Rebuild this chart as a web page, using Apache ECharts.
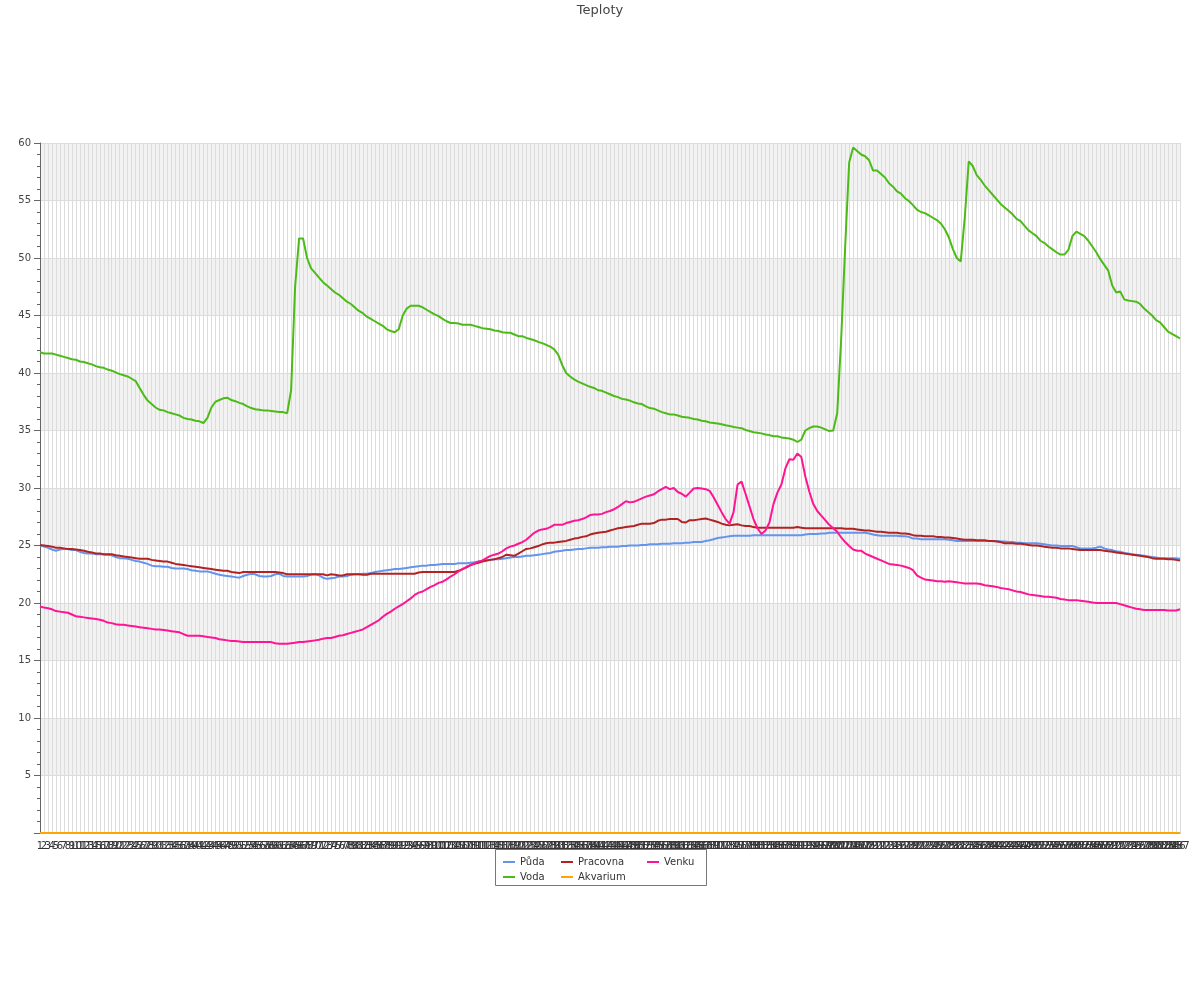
<!DOCTYPE html>
<html>
<head>
<meta charset="utf-8">
<script src="https://cdn.jsdelivr.net/npm/echarts@6/dist/echarts.min.js"></script>
<style>html,body{margin:0;padding:0;background:#fff}#c{width:1200px;height:1000px}</style>
</head>
<body>
<div id="c"></div>
<script>
// ---- data ----
const categories = Array.from({length: 287}, (_, i) => String(i + 1));

const puda = [
25.0,24.9,24.8,24.65,24.55,24.65,24.7,24.7,24.6,24.6,
24.45,24.35,24.3,24.3,24.25,24.25,24.2,24.2,24.15,24.0,
23.9,23.9,23.85,23.75,23.65,23.6,23.5,23.4,23.25,23.2,
23.2,23.15,23.15,23.05,23.0,23.0,23.0,22.95,22.85,22.8,
22.75,22.75,22.75,22.65,22.55,22.45,22.4,22.35,22.3,22.25,
22.2,22.35,22.45,22.55,22.5,22.35,22.3,22.3,22.35,22.5,
22.55,22.35,22.3,22.3,22.3,22.3,22.3,22.35,22.45,22.5,
22.4,22.2,22.1,22.15,22.2,22.3,22.3,22.35,22.45,22.5,
22.5,22.55,22.55,22.6,22.7,22.75,22.8,22.85,22.9,22.95,
22.95,23.0,23.05,23.1,23.15,23.2,23.25,23.25,23.3,23.3,
23.35,23.4,23.4,23.4,23.4,23.45,23.45,23.45,23.5,23.55,
23.6,23.65,23.7,23.75,23.8,23.8,23.85,23.9,23.95,24.0,
24.0,24.05,24.1,24.1,24.15,24.2,24.25,24.3,24.35,24.45,
24.5,24.55,24.6,24.6,24.65,24.7,24.7,24.75,24.8,24.8,
24.8,24.85,24.85,24.9,24.9,24.9,24.95,24.95,25.0,25.0,
25.0,25.05,25.05,25.1,25.1,25.1,25.15,25.15,25.15,25.2,
25.2,25.2,25.25,25.25,25.3,25.3,25.3,25.4,25.45,25.55,
25.65,25.7,25.75,25.8,25.85,25.85,25.85,25.85,25.85,25.9,
25.9,25.9,25.9,25.9,25.9,25.9,25.9,25.9,25.9,25.9,
25.9,25.9,25.95,26.0,26.0,26.0,26.05,26.05,26.1,26.1,
26.1,26.1,26.1,26.1,26.1,26.1,26.1,26.1,26.05,25.95,
25.9,25.85,25.85,25.85,25.85,25.85,25.8,25.8,25.75,25.6,
25.6,25.55,25.55,25.55,25.55,25.55,25.55,25.55,25.5,25.45,
25.4,25.4,25.4,25.4,25.4,25.4,25.4,25.4,25.4,25.4,
25.4,25.35,25.35,25.3,25.3,25.25,25.25,25.2,25.2,25.2,
25.2,25.15,25.1,25.05,25.0,25.0,24.95,24.95,24.95,24.95,
24.85,24.75,24.75,24.75,24.75,24.8,24.9,24.75,24.65,24.6,
24.5,24.45,24.35,24.3,24.25,24.2,24.15,24.1,24.05,24.0,
23.95,23.9,23.9,23.9,23.9,23.9,23.85
];

const voda = [
41.8,41.7,41.7,41.7,41.6,41.5,41.4,41.3,41.2,41.15,
41.0,40.95,40.85,40.75,40.6,40.5,40.45,40.3,40.2,40.05,
39.9,39.8,39.7,39.5,39.3,38.7,38.1,37.6,37.3,37.0,
36.8,36.75,36.6,36.5,36.4,36.3,36.1,36.0,35.95,35.85,
35.8,35.65,36.1,37.0,37.5,37.65,37.8,37.85,37.65,37.55,
37.4,37.3,37.1,36.95,36.85,36.8,36.75,36.75,36.7,36.65,
36.6,36.6,36.5,38.5,47.5,51.7,51.7,50.0,49.1,48.7,
48.3,47.9,47.6,47.3,47.0,46.8,46.5,46.2,46.0,45.7,
45.4,45.2,44.9,44.7,44.5,44.3,44.1,43.8,43.65,43.55,
43.8,45.0,45.6,45.85,45.85,45.85,45.7,45.5,45.3,45.1,
44.95,44.7,44.5,44.35,44.35,44.3,44.2,44.2,44.2,44.1,
44.0,43.9,43.85,43.8,43.7,43.65,43.55,43.5,43.5,43.35,
43.2,43.2,43.05,42.95,42.85,42.7,42.6,42.45,42.3,42.05,
41.6,40.7,40.0,39.7,39.45,39.25,39.1,38.95,38.8,38.7,
38.5,38.45,38.3,38.15,38.0,37.9,37.75,37.7,37.6,37.45,
37.35,37.3,37.1,36.95,36.9,36.75,36.6,36.5,36.4,36.4,
36.3,36.2,36.15,36.1,36.0,35.95,35.85,35.8,35.7,35.65,
35.6,35.55,35.45,35.4,35.3,35.25,35.2,35.05,34.95,34.85,
34.8,34.75,34.65,34.6,34.5,34.5,34.4,34.35,34.3,34.2,
34.0,34.2,35.0,35.2,35.35,35.35,35.25,35.1,34.95,35.0,
36.5,43.0,51.0,58.3,59.6,59.3,59.0,58.85,58.5,57.6,
57.6,57.3,57.0,56.5,56.2,55.8,55.6,55.2,54.95,54.6,
54.2,54.0,53.9,53.7,53.5,53.3,53.0,52.5,51.8,50.8,
50.0,49.7,53.5,58.4,58.0,57.2,56.8,56.3,55.9,55.5,
55.1,54.7,54.4,54.1,53.8,53.4,53.2,52.8,52.4,52.15,
51.9,51.5,51.3,51.0,50.75,50.5,50.3,50.3,50.7,51.9,
52.3,52.1,51.9,51.5,51.0,50.5,49.9,49.4,48.9,47.6,
47.0,47.1,46.4,46.3,46.25,46.2,46.0,45.6,45.3,45.0,
44.6,44.4,44.0,43.6,43.4,43.2,43.0
];

const pracovna = [
25.05,25.0,24.95,24.9,24.8,24.8,24.75,24.7,24.7,24.65,
24.6,24.55,24.45,24.4,24.3,24.3,24.25,24.25,24.25,24.15,
24.1,24.05,24.0,23.95,23.9,23.85,23.85,23.85,23.75,23.7,
23.65,23.6,23.6,23.5,23.4,23.35,23.3,23.25,23.2,23.15,
23.1,23.05,23.0,22.95,22.9,22.85,22.8,22.8,22.7,22.65,
22.6,22.7,22.7,22.7,22.7,22.7,22.7,22.7,22.7,22.7,
22.65,22.6,22.5,22.5,22.5,22.5,22.5,22.5,22.5,22.5,
22.5,22.5,22.4,22.5,22.45,22.4,22.4,22.5,22.5,22.5,
22.5,22.45,22.45,22.55,22.55,22.55,22.55,22.55,22.55,22.55,
22.55,22.55,22.55,22.55,22.55,22.65,22.7,22.7,22.7,22.7,
22.7,22.7,22.7,22.7,22.7,22.8,22.95,23.1,23.3,23.4,
23.5,23.6,23.7,23.75,23.8,23.9,24.0,24.2,24.15,24.1,
24.3,24.5,24.7,24.75,24.85,24.95,25.1,25.2,25.25,25.25,
25.3,25.35,25.4,25.5,25.6,25.65,25.75,25.8,25.95,26.05,
26.1,26.15,26.2,26.3,26.4,26.5,26.55,26.6,26.65,26.7,
26.8,26.9,26.9,26.9,26.95,27.15,27.25,27.25,27.3,27.3,
27.3,27.05,27.0,27.2,27.2,27.25,27.3,27.35,27.25,27.15,
27.05,26.9,26.8,26.75,26.8,26.85,26.75,26.7,26.7,26.6,
26.55,26.55,26.55,26.55,26.55,26.55,26.55,26.55,26.55,26.55,
26.6,26.55,26.5,26.5,26.5,26.5,26.5,26.5,26.5,26.5,
26.5,26.5,26.45,26.45,26.45,26.4,26.35,26.3,26.3,26.25,
26.2,26.2,26.15,26.1,26.1,26.1,26.05,26.05,26.0,25.9,
25.85,25.85,25.8,25.8,25.8,25.75,25.75,25.7,25.7,25.65,
25.6,25.55,25.5,25.5,25.5,25.45,25.45,25.45,25.4,25.4,
25.35,25.3,25.2,25.2,25.2,25.15,25.15,25.1,25.05,25.0,
25.0,24.95,24.9,24.85,24.8,24.8,24.75,24.75,24.75,24.7,
24.65,24.6,24.6,24.6,24.6,24.6,24.6,24.55,24.5,24.45,
24.4,24.35,24.3,24.25,24.2,24.15,24.1,24.05,24.0,23.9,
23.85,23.85,23.85,23.8,23.8,23.75,23.7
];

const akvarium = [
0,0,0,0,0,0,0,0,0,0, 0,0,0,0,0,0,0,0,0,0, 0,0,0,0,0,0,0,0,0,0,
0,0,0,0,0,0,0,0,0,0, 0,0,0,0,0,0,0,0,0,0, 0,0,0,0,0,0,0,0,0,0,
0,0,0,0,0,0,0,0,0,0, 0,0,0,0,0,0,0,0,0,0, 0,0,0,0,0,0,0,0,0,0,
0,0,0,0,0,0,0,0,0,0, 0,0,0,0,0,0,0,0,0,0, 0,0,0,0,0,0,0,0,0,0,
0,0,0,0,0,0,0,0,0,0, 0,0,0,0,0,0,0,0,0,0, 0,0,0,0,0,0,0,0,0,0,
0,0,0,0,0,0,0,0,0,0, 0,0,0,0,0,0,0,0,0,0, 0,0,0,0,0,0,0,0,0,0,
0,0,0,0,0,0,0,0,0,0, 0,0,0,0,0,0,0,0,0,0, 0,0,0,0,0,0,0,0,0,0,
0,0,0,0,0,0,0,0,0,0, 0,0,0,0,0,0,0,0,0,0, 0,0,0,0,0,0,0,0,0,0,
0,0,0,0,0,0,0,0,0,0, 0,0,0,0,0,0,0,0,0,0, 0,0,0,0,0,0,0,0,0,0,
0,0,0,0,0,0,0,0,0,0, 0,0,0,0,0,0,0
];

const venku = [
19.7,19.6,19.55,19.45,19.3,19.25,19.2,19.15,19.0,18.85,
18.8,18.75,18.7,18.65,18.6,18.55,18.45,18.3,18.25,18.15,
18.1,18.1,18.05,18.0,17.95,17.9,17.85,17.8,17.75,17.7,
17.7,17.65,17.6,17.55,17.5,17.45,17.3,17.15,17.15,17.15,
17.15,17.1,17.05,17.0,16.95,16.85,16.8,16.75,16.7,16.7,
16.65,16.6,16.6,16.6,16.6,16.6,16.6,16.6,16.6,16.5,
16.45,16.45,16.45,16.5,16.55,16.6,16.6,16.65,16.7,16.75,
16.8,16.9,16.95,16.95,17.05,17.15,17.2,17.3,17.4,17.5,
17.6,17.7,17.9,18.1,18.3,18.5,18.8,19.05,19.25,19.5,
19.7,19.9,20.15,20.4,20.7,20.9,21.0,21.2,21.4,21.55,
21.75,21.85,22.05,22.3,22.5,22.75,22.95,23.15,23.3,23.45,
23.6,23.7,23.9,24.1,24.2,24.3,24.5,24.75,24.9,25.0,
25.15,25.3,25.5,25.8,26.1,26.3,26.4,26.45,26.6,26.8,
26.8,26.8,26.95,27.05,27.15,27.2,27.3,27.45,27.65,27.7,
27.7,27.75,27.9,28.0,28.15,28.35,28.6,28.85,28.75,28.8,
28.95,29.1,29.25,29.35,29.45,29.7,29.9,30.1,29.9,30.0,
29.65,29.5,29.25,29.6,29.95,30.0,29.95,29.9,29.75,29.2,
28.55,27.9,27.3,26.9,27.9,30.3,30.55,29.5,28.4,27.3,
26.5,26.0,26.3,27.0,28.6,29.6,30.3,31.7,32.5,32.45,
33.0,32.7,31.0,29.7,28.6,28.0,27.6,27.2,26.8,26.5,
26.2,25.7,25.3,24.95,24.65,24.55,24.55,24.3,24.15,24.0,
23.85,23.7,23.55,23.4,23.35,23.3,23.25,23.15,23.05,22.85,
22.4,22.2,22.05,22.0,21.95,21.9,21.9,21.85,21.9,21.85,
21.8,21.75,21.7,21.7,21.7,21.7,21.65,21.55,21.5,21.45,
21.4,21.3,21.25,21.2,21.1,21.0,20.95,20.85,20.75,20.7,
20.65,20.6,20.55,20.55,20.5,20.45,20.35,20.3,20.25,20.25,
20.25,20.2,20.15,20.1,20.05,20.0,20.0,20.0,20.0,20.0,
20.0,19.9,19.8,19.7,19.6,19.5,19.45,19.4,19.4,19.4,
19.4,19.4,19.4,19.35,19.35,19.35,19.45
];

const seriesNames = ['Půda', 'Voda', 'Pracovna', 'Akvarium', 'Venku'];
const seriesColors = ['#6495ED', '#4CBB17', '#B22222', '#FFA500', '#FF1493'];
const seriesData = [puda, voda, pracovna, akvarium, venku];

// ---- chart ----
const chart = echarts.init(document.getElementById('c'), null, {renderer: 'canvas'});
const font = 'DejaVu Sans';
const legendBase = {
  orient: 'vertical', top: 856, padding: 0, itemGap: 3,
  itemWidth: 12, itemHeight: 2, icon: 'rect',
  textStyle: {fontFamily: font, fontSize: 10, color: '#333', lineHeight: 12}
};
chart.setOption({
  animation: false,
  backgroundColor: '#fff',
  textStyle: {fontFamily: font},
  color: seriesColors,
  title: {
    text: 'Teploty', left: 'center', top: 4, padding: 0,
    textStyle: {fontFamily: font, fontSize: 13, fontWeight: 'normal', color: '#444'}
  },
  legend: [
    Object.assign({}, legendBase, {left: 503, data: ['Půda', 'Voda']}),
    Object.assign({}, legendBase, {left: 561, data: ['Pracovna', 'Akvarium']}),
    Object.assign({}, legendBase, {left: 647, data: ['Venku']})
  ],
  graphic: [{
    type: 'rect', silent: true,
    shape: {x: 495.5, y: 849.5, width: 211, height: 36},
    style: {fill: 'none', stroke: '#777', lineWidth: 1}
  }],
  grid: {left: 40, right: 20, top: 143, bottom: 167, containLabel: false},
  xAxis: {
    type: 'category', data: categories, boundaryGap: false,
    axisLine: {show: true, lineStyle: {color: '#666'}},
    axisTick: {show: false},
    axisLabel: {interval: 0, fontSize: 10, color: '#333', margin: 8, hideOverlap: false},
    splitLine: {show: true, interval: 0, lineStyle: {color: '#dcdcdc', width: 1}}
  },
  yAxis: {
    type: 'value', min: 0, max: 60, interval: 5,
    axisLine: {show: true, lineStyle: {color: '#666'}},
    axisTick: {show: true, length: 6, lineStyle: {color: '#666'}},
    minorTick: {show: true, splitNumber: 5, length: 3, lineStyle: {color: '#666'}},
    axisLabel: {fontSize: 10, color: '#444', margin: 9, showMinLabel: false},
    splitLine: {show: true, lineStyle: {color: '#dcdcdc'}},
    splitArea: {show: true, areaStyle: {color: ['rgba(255,255,255,0)', '#f2f2f2']}}
  },
  series: seriesNames.map((n, k) => ({
    name: n, type: 'line', data: seriesData[k],
    showSymbol: false, symbol: 'none',
    lineStyle: {width: 2, color: seriesColors[k]},
    itemStyle: {color: seriesColors[k]}
  }))
});
</script>
</body>
</html>
